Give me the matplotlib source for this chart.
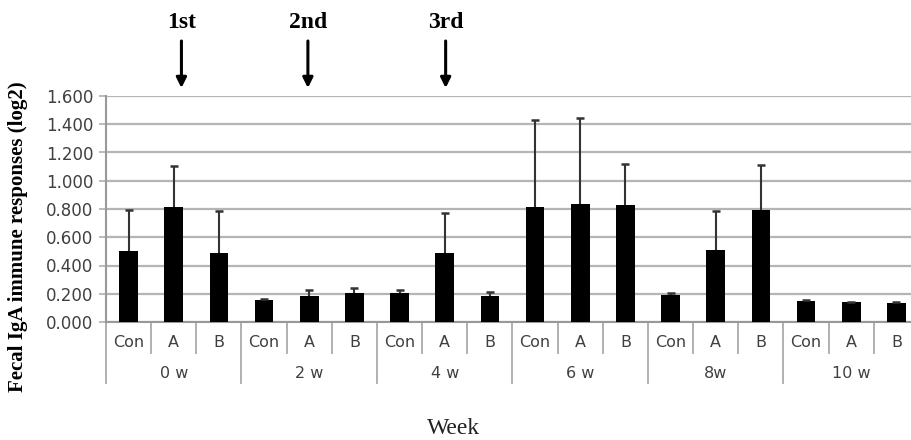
import numpy as np
import matplotlib.pyplot as plt
from matplotlib.transforms import blended_transform_factory

# Data
weeks = ['0 w', '2 w', '4 w', '6 w', '8w', '10 w']
groups = ['Con', 'A', 'B']
means = np.array([0.504, 0.814, 0.487,
                  0.153, 0.181, 0.207,
                  0.207, 0.487, 0.181,
                  0.814, 0.833, 0.826,
                  0.191, 0.511, 0.793,
                  0.148, 0.141, 0.132])
err_top = np.array([0.793, 1.104, 0.786,
                    0.165, 0.224, 0.238,
                    0.224, 0.772, 0.212,
                    1.433, 1.442, 1.120,
                    0.205, 0.786, 1.115,
                    0.153, 0.145, 0.144])
injections = ['1st', '2nd', '3rd']
injection_x = [1.17, 3.97, 7.02]

n = len(means)
x = np.arange(n)

fig = plt.figure(figsize=(9.12, 4.4), dpi=100)
ax = fig.add_axes([106 / 912, 1 - 322 / 440, 813 / 912, 226 / 440])

grid_col = '#b5b5b5'
txt_col = '#404040'
ax.set_axisbelow(True)
ax.yaxis.grid(True, color=grid_col, linewidth=1.6)

ax.bar(x, means, width=0.41, color='black', zorder=3)
# upper-only error bars
ax.vlines(x, means, err_top, color='#333333', linewidth=1.5, zorder=4)
ax.plot(x, err_top, ls='none', marker='_', markersize=5.5, mew=1.8,
        color='#333333', zorder=4)

ax.set_xlim(-0.5, n - 0.5)
ax.set_ylim(0, 1.6)
ax.set_yticks(np.arange(0, 1.61, 0.2))
ax.set_yticklabels(['%.3f' % v for v in np.arange(0, 1.61, 0.2)],
                   family='DejaVu Sans', fontsize=12, color=txt_col)
ax.tick_params(axis='y', length=5, width=1.3, color=grid_col, pad=4)
ax.set_xticks([])

for s in ['top', 'right']:
    ax.spines[s].set_visible(False)
ax.spines['left'].set_color('#999999')
ax.spines['left'].set_linewidth(1.5)
ax.spines['bottom'].set_color('#999999')
ax.spines['bottom'].set_linewidth(1.5)

# category axis below the plot
tr = blended_transform_factory(ax.transData, ax.transAxes)
for i in range(n):
    ax.text(i, -0.092, groups[i % 3], transform=tr, ha='center', va='center',
            family='DejaVu Sans', fontsize=11.5, color=txt_col)
for i in range(n + 1):
    y_end = -0.27 if i % 3 == 0 else -0.137
    ax.plot([i - 0.5, i - 0.5], [0, y_end], transform=tr, color='#aaaaaa',
            linewidth=1.3, clip_on=False)
for j, w in enumerate(weeks):
    ax.text(3 * j + 1, -0.226, w, transform=tr, ha='center', va='center',
            family='DejaVu Sans', fontsize=11.5, color=txt_col)

fig.text(454 / 912, 1 - 428 / 440, 'Week', ha='center', va='center',
         family='Liberation Serif', fontsize=17, color='#222222')
fig.text(18 / 912, 1 - 237 / 440, 'Fecal IgA immune responses (log2)',
         rotation=90, ha='center', va='center',
         family='Liberation Serif', fontweight='bold', fontsize=15)

# vaccination arrows
for lab, xa in zip(injections, injection_x):
    ax.annotate('', xy=(xa, 1 - 88 / 440), xytext=(xa, 1 - 41 / 440),
                xycoords=(ax.transData, fig.transFigure),
                textcoords=(ax.transData, fig.transFigure),
                arrowprops=dict(arrowstyle='-|>', color='black', lw=2.2,
                                mutation_scale=15, shrinkA=0, shrinkB=0))
    ax.annotate(lab, xy=(xa, 1 - 23 / 440), xycoords=(ax.transData, fig.transFigure),
                ha='center', va='center', family='Liberation Serif',
                fontweight='bold', fontsize=17)

fig.savefig('out.png', dpi=100)
